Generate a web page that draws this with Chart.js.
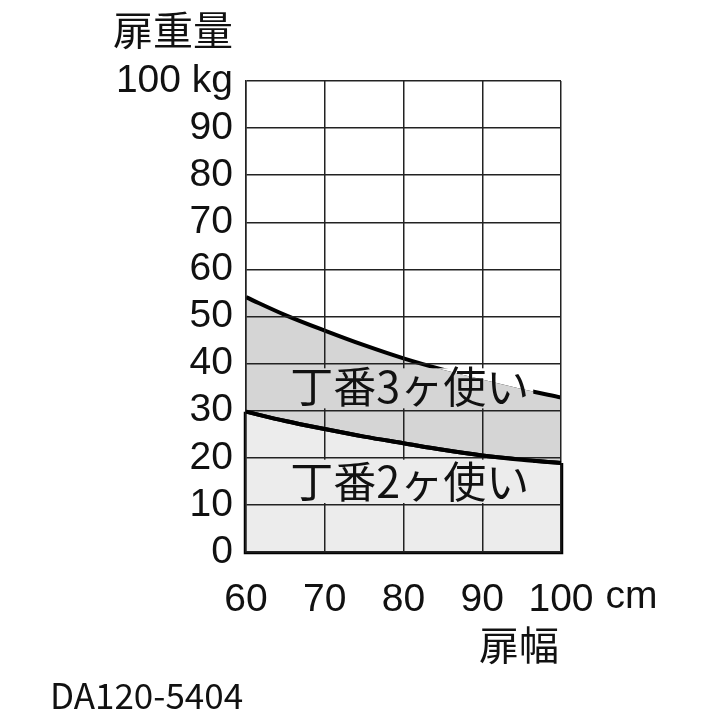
<!DOCTYPE html>
<html>
<head>
<meta charset="utf-8">
<script src="https://cdn.jsdelivr.net/npm/chart.js@4/dist/chart.umd.min.js"></script>
<style>
html,body{margin:0;padding:0;background:#fff;}
#wrap{width:713px;height:713px;}
</style>
</head>
<body>
<div id="wrap"><canvas id="c" width="713" height="713"></canvas></div>
<script>
// Data
const doorWidths = [60, 65, 70, 75, 80, 85, 90, 95, 100];           // 扉幅 (cm)
const hinge3Weights = [54.1, 50.3, 47.0, 43.9, 41.1, 38.7, 36.6, 34.6, 32.8]; // 丁番3ヶ使い (kg)
const hinge2Weights = [29.8, 27.8, 26.1, 24.5, 23.1, 21.7, 20.5, 19.6, 18.9]; // 丁番2ヶ使い (kg)
const xTicks = [60, 70, 80, 90, 100];
const yTicks = [0, 10, 20, 30, 40, 50, 60, 70, 80, 90, 100];
const seriesLabels = ['丁番2ヶ使い', '丁番3ヶ使い'];
const yUnit = 'kg';
const xUnit = 'cm';
const yTitle = '扉重量';
const xTitle = '扉幅';
const footnote = 'DA120-5404';

const pts = (xs, ys) => xs.map((x, i) => ({x: x, y: ys[i]}));
const xMin = xTicks[0], xMax = xTicks[xTicks.length - 1];
const boxPoints = [
  {x: xMin, y: hinge2Weights[0]},
  {x: xMin, y: yTicks[0]},
  {x: xMax, y: yTicks[0]},
  {x: xMax, y: hinge2Weights[hinge2Weights.length - 1]}
];

const LIGHT = '#ececec', DARK = '#d5d5d5';
const tickFont = {family: '"Liberation Sans", Arial, sans-serif', size: 39};

const textPlugin = {
  id: 'texts',
  afterDraw(chart) {
    const ctx = chart.ctx;
    const xs = chart.scales.x, ys = chart.scales.y;
    const area = chart.chartArea;
    const upperLine = chart.getDatasetMeta(1).dataset;
    const lowerLine = chart.getDatasetMeta(0).dataset;
    ctx.save();
    const labelFont = '43px "Noto Sans CJK JP", sans-serif';
    const clipCurve = (line, below) => {
      ctx.beginPath();
      line.path(ctx);
      if (below) {
        ctx.lineTo(area.right, area.bottom);
        ctx.lineTo(area.left, area.bottom);
      } else {
        ctx.lineTo(area.right, 0);
        ctx.lineTo(area.left, 0);
      }
      ctx.closePath();
      ctx.clip();
    };
    const drawText = (txt, px, py) => {
      ctx.fillStyle = '#111';
      ctx.font = labelFont; ctx.textAlign = 'center'; ctx.textBaseline = 'middle';
      ctx.fillText(txt, px, py);
    };
    ctx.font = labelFont;
    // upper label: background box between grid rows (white above curve, grey below)
    const p3x = xs.getPixelForValue(80.8), p3y = ys.getPixelForValue(35.0);
    const w3 = ctx.measureText(seriesLabels[1]).width;
    const r3 = {x: p3x - w3 / 2 - 2, y: ys.getPixelForValue(39.0), w: w3 + 6, h: ys.getPixelForValue(30.5) - ys.getPixelForValue(39.0)};
    ctx.save(); clipCurve(upperLine, false); ctx.fillStyle = '#fff'; ctx.fillRect(r3.x, r3.y, r3.w, r3.h); ctx.restore();
    ctx.save(); clipCurve(upperLine, true); ctx.fillStyle = DARK; ctx.fillRect(r3.x, r3.y, r3.w, r3.h); ctx.restore();
    drawText(seriesLabels[1], p3x, p3y);
    // lower label
    const p2x = xs.getPixelForValue(80.8), p2y = ys.getPixelForValue(15.0);
    const w2 = ctx.measureText(seriesLabels[0]).width;
    const r2 = {x: p2x - w2 / 2 - 2, y: ys.getPixelForValue(19.6), w: w2 + 6, h: ys.getPixelForValue(10.4) - ys.getPixelForValue(19.6)};
    ctx.save(); clipCurve(lowerLine, true); ctx.fillStyle = LIGHT; ctx.fillRect(r2.x, r2.y, r2.w, r2.h); ctx.restore();
    lowerLine.draw(ctx, area);
    drawText(seriesLabels[0], p2x, p2y);

    ctx.fillStyle = '#111';
    // y title
    ctx.font = '40px "Noto Sans CJK JP", sans-serif';
    ctx.textAlign = 'right';
    ctx.textBaseline = 'middle';
    ctx.fillText(yTitle, 233, 30);
    // x title
    ctx.textAlign = 'center';
    ctx.fillText(xTitle, 519, 645);
    // unit cm
    ctx.font = tickFont.size + 'px ' + tickFont.family;
    const w100 = ctx.measureText(String(xMax)).width;
    ctx.textAlign = 'left';
    ctx.fillText(xUnit, xs.getPixelForValue(xMax) + w100 / 2 + 12, 597);
    // footnote
    ctx.font = '35px "Noto Sans CJK JP", sans-serif';
    ctx.textAlign = 'left';
    ctx.fillText(footnote, 50, 696);
    ctx.restore();
  }
};

new Chart(document.getElementById('c'), {
  type: 'scatter',
  data: {
    datasets: [
      {
        label: seriesLabels[0],
        data: pts(doorWidths, hinge2Weights),
        showLine: true,
        borderColor: '#000',
        borderWidth: 4,
        backgroundColor: LIGHT,
        fill: 'origin',
        pointRadius: 0,
        cubicInterpolationMode: 'monotone'
      },
      {
        label: seriesLabels[1],
        data: pts(doorWidths, hinge3Weights),
        showLine: true,
        borderColor: '#000',
        borderWidth: 4,
        backgroundColor: DARK,
        fill: '-1',
        pointRadius: 0,
        cubicInterpolationMode: 'monotone'
      },
      {
        label: 'box',
        data: boxPoints,
        showLine: true,
        borderColor: '#000',
        borderWidth: 4.5,
        fill: false,
        clip: false,
        pointRadius: 0,
        tension: 0
      }
    ]
  },
  options: {
    responsive: false,
    animation: false,
    devicePixelRatio: 1,
    layout: {padding: {left: 0, top: 81, right: 152, bottom: 0}},
    plugins: {legend: {display: false}, tooltip: {enabled: false}},
    scales: {
      x: {
        type: 'linear',
        min: xMin, max: xMax,
        afterFit(s) { s.height = 161; },
        afterBuildTicks(s) { s.ticks = xTicks.map(v => ({value: v})); },
        grid: {color: '#222', lineWidth: 1.5, drawTicks: false, z: 1},
        border: {display: true, color: '#222', width: 1.5, z: 1},
        ticks: {color: '#111', font: tickFont, padding: 25, maxRotation: 0, autoSkip: false}
      },
      y: {
        type: 'linear',
        min: yTicks[0], max: yTicks[yTicks.length - 1],
        afterFit(s) { s.width = 246; },
        afterBuildTicks(s) { s.ticks = yTicks.map(v => ({value: v})); },
        grid: {color: '#222', lineWidth: 1.5, drawTicks: false, z: 1},
        border: {display: true, color: '#222', width: 1.5, z: 1},
        ticks: {
          color: '#111', font: tickFont, padding: 13, autoSkip: false,
          callback: v => v === yTicks[yTicks.length - 1] ? v + ' ' + yUnit : String(v)
        }
      }
    }
  },
  plugins: [textPlugin]
});
</script>
</body>
</html>
